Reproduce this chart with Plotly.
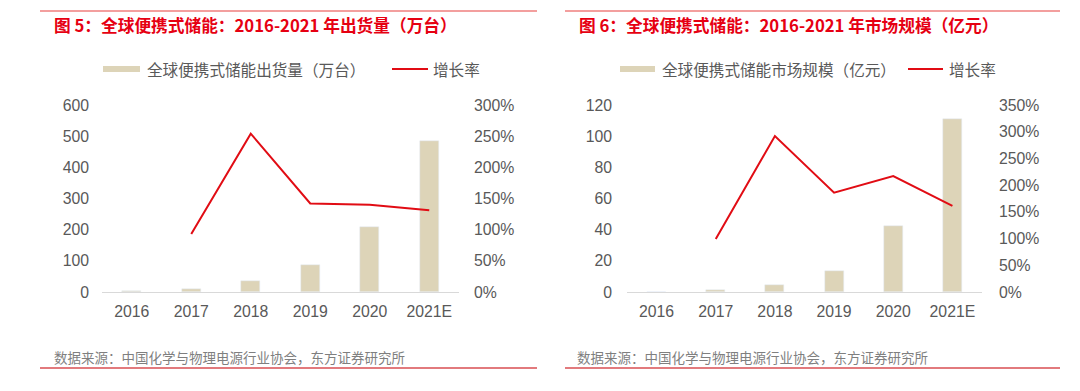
import plotly.graph_objects as go

# ---------------- data ----------------
years = ["2016", "2017", "2018", "2019", "2020", "2021E"]
shipments = [4, 10, 35, 86, 209, 485]              # 万台
shipment_growth = [None, 0.93, 2.54, 1.42, 1.40, 1.31]
market_size = [0.3, 1.0, 4.4, 13.2, 42.5, 111]     # 亿元
market_growth = [None, 0.99, 2.92, 1.86, 2.17, 1.61]

left_ticks = [0, 100, 200, 300, 400, 500, 600]
left_pct_ticks = [0, 0.5, 1.0, 1.5, 2.0, 2.5, 3.0]
right_ticks = [0, 20, 40, 60, 80, 100, 120]
right_pct_ticks = [0, 0.5, 1.0, 1.5, 2.0, 2.5, 3.0, 3.5]

title_left = "图 5：全球便携式储能：2016-2021 年出货量（万台）"
title_right = "图 6：全球便携式储能：2016-2021 年市场规模（亿元）"
bar_name_left = "全球便携式储能出货量（万台）"
bar_name_right = "全球便携式储能市场规模（亿元）"
line_name = "增长率"
source = "数据来源：中国化学与物理电源行业协会，东方证券研究所"

# ---------------- style ----------------
W, H = 1080, 391
OFF = 8  # page body margin in the browser
BAR = "#DDD4B8"
RED = "#E10C14"
GREY = "#595959"
NUM_FONT = "Liberation Sans, Arial, Noto Sans CJK SC, sans-serif"
CJK_FONT = "Noto Sans CJK SC, sans-serif"


def px(x):
    return (x - OFF) / W


def py(y):
    return 1 - (y - OFF) / H


fig = go.Figure()

fig.add_trace(go.Bar(x=years, y=shipments, marker_color=BAR, width=0.32,
                     xaxis="x", yaxis="y", showlegend=False, name=bar_name_left))
fig.add_trace(go.Scatter(x=years, y=shipment_growth, mode="lines",
                         line=dict(color=RED, width=2), xaxis="x", yaxis="y2",
                         showlegend=False, name=line_name, connectgaps=False))
fig.add_trace(go.Bar(x=years, y=market_size, marker_color=BAR, width=0.32,
                     xaxis="x2", yaxis="y3", showlegend=False, name=bar_name_right))
fig.add_trace(go.Scatter(x=years, y=market_growth, mode="lines",
                         line=dict(color=RED, width=2), xaxis="x2", yaxis="y4",
                         showlegend=False, name=line_name, connectgaps=False))

ydom = [py(292), py(105)]
xdom1 = [px(102), px(459)]
xdom2 = [px(627), px(982)]

tickfont = dict(family=NUM_FONT, size=15.8, color=GREY)

xcommon = dict(type="category", showline=True, linecolor="#D9D9D9", linewidth=1,
               showgrid=False, zeroline=False, ticks="", tickfont=tickfont,
               ticklabelstandoff=5, automargin=False)
ycommon = dict(showgrid=False, zeroline=False, showline=False, ticks="",
               tickfont=tickfont, automargin=False)

fig.update_layout(
    width=W, height=H, autosize=False,
    margin=dict(l=0, r=0, t=0, b=0, pad=0, autoexpand=False),
    paper_bgcolor="white", plot_bgcolor="white",
    bargap=0,
    xaxis=dict(domain=xdom1, anchor="y", **xcommon),
    yaxis=dict(domain=ydom, anchor="x", range=[0, 600], tickvals=left_ticks,
               ticklabelstandoff=12, **ycommon),
    yaxis2=dict(overlaying="y", side="right", anchor="x", range=[0, 3.0],
                tickvals=left_pct_ticks, tickformat=".0%", ticklabelstandoff=14,
                **ycommon),
    xaxis2=dict(domain=xdom2, anchor="y3", **xcommon),
    yaxis3=dict(domain=ydom, anchor="x2", range=[0, 120], tickvals=right_ticks,
                ticklabelstandoff=14, **ycommon),
    yaxis4=dict(overlaying="y3", side="right", anchor="x2", range=[0, 3.5],
                tickvals=right_pct_ticks, tickformat=".0%", ticklabelstandoff=16,
                **ycommon),
)

shapes = []
annos = []

panels = [
    dict(x0=40, x1=537, title=title_left, tx=52, src_x=52,
         sw=(103, 140), bar_text=bar_name_left, bt=145,
         ln=(392, 428), lt=431),
    dict(x0=565, x1=1060, title=title_right, tx=577, src_x=575,
         sw=(620, 655), bar_text=bar_name_right, bt=660,
         ln=(908, 943), lt=947),
]

for p in panels:
    # top rule
    shapes.append(dict(type="line", xref="paper", yref="paper",
                       x0=px(p["x0"]), x1=px(p["x1"]), y0=py(11), y1=py(11),
                       line=dict(color="#E8403F", width=1.2)))
    # bottom rule
    shapes.append(dict(type="line", xref="paper", yref="paper",
                       x0=px(p["x0"]), x1=px(p["x1"]), y0=py(368), y1=py(368),
                       line=dict(color="#E27A7D", width=2)))
    # title
    annos.append(dict(text=f"<b>{p['title']}</b>", xref="paper", yref="paper",
                      x=px(p["tx"]), y=py(25), xanchor="left", yanchor="middle",
                      showarrow=False,
                      font=dict(family=CJK_FONT, size=16.7, color="#E60012")))
    # legend: bar swatch
    shapes.append(dict(type="rect", xref="paper", yref="paper",
                       x0=px(p["sw"][0]), x1=px(p["sw"][1]),
                       y0=py(72), y1=py(66), fillcolor=BAR,
                       line=dict(width=0)))
    annos.append(dict(text=p["bar_text"], xref="paper", yref="paper",
                      x=px(p["bt"]), y=py(69), xanchor="left", yanchor="middle",
                      showarrow=False,
                      font=dict(family=CJK_FONT, size=15.6, color=GREY)))
    # legend: line swatch
    shapes.append(dict(type="line", xref="paper", yref="paper",
                       x0=px(p["ln"][0]), x1=px(p["ln"][1]),
                       y0=py(69), y1=py(69), line=dict(color=RED, width=2)))
    annos.append(dict(text=line_name, xref="paper", yref="paper",
                      x=px(p["lt"]), y=py(69), xanchor="left", yanchor="middle",
                      showarrow=False,
                      font=dict(family=CJK_FONT, size=15.6, color=GREY)))
    # source
    annos.append(dict(text=source, xref="paper", yref="paper",
                      x=px(p["src_x"]), y=py(357), xanchor="left", yanchor="middle",
                      showarrow=False,
                      font=dict(family=CJK_FONT, size=13.5, color="#7F7F7F")))

fig.update_layout(shapes=shapes, annotations=annos)

fig.write_html("out.html")
